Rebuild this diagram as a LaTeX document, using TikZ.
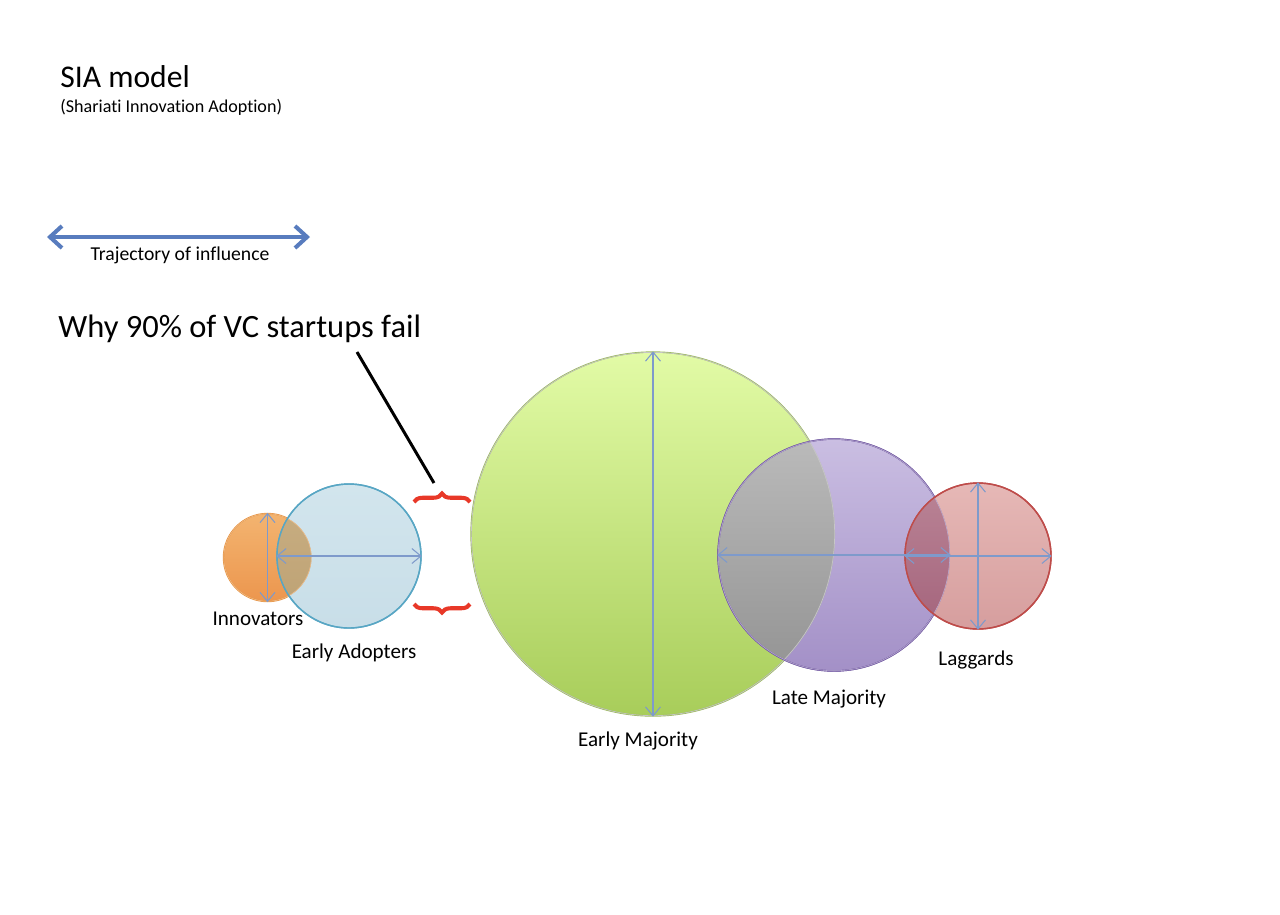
\documentclass[tikz,border=0pt]{standalone}
\usepackage{fontspec}
\setmainfont{Carlito}[Ligatures=NoCommon]
\usepackage{xcolor}
\usepackage{tikz}
\usetikzlibrary{arrows.meta, positioning, decorations.pathreplacing}
\definecolor{spanblue}{RGB}{126, 154, 203}
\definecolor{trajblue}{RGB}{88, 124, 190}
\definecolor{bracered}{RGB}{232, 56, 40}
\definecolor{innTop}{RGB}{243, 180, 112}
\definecolor{innBot}{RGB}{236, 150, 78}
\definecolor{innLine}{RGB}{230, 146, 64}
\definecolor{eaTop}{RGB}{210, 229, 237}
\definecolor{eaBot}{RGB}{200, 222, 232}
\definecolor{eaLine}{RGB}{88, 166, 196}
\definecolor{emTop}{RGB}{226, 251, 166}
\definecolor{emBot}{RGB}{168, 205, 90}
\definecolor{emLine}{RGB}{155, 185, 92}
\definecolor{lmTop}{RGB}{202, 190, 226}
\definecolor{lmBot}{RGB}{163, 144, 199}
\definecolor{lmLine}{RGB}{120, 96, 166}
\definecolor{lagTop}{RGB}{230, 184, 182}
\definecolor{lagBot}{RGB}{214, 158, 158}
\definecolor{lagLine}{RGB}{190, 76, 74}
\definecolor{khakiTop}{RGB}{202, 176, 132}
\definecolor{khakiBot}{RGB}{188, 160, 114}
\definecolor{grayTop}{RGB}{186, 186, 186}
\definecolor{grayBot}{RGB}{148, 148, 148}
\definecolor{mauveTop}{RGB}{186, 132, 150}
\definecolor{mauveBot}{RGB}{164, 100, 124}
\tikzstyle{bubble} = [circle, inner sep=0pt, line width=0.8pt]
\tikzstyle{spanarrow} = [draw=spanblue, line width=0.6pt, {Straight Barb[length=1.8mm,width=3mm]}-{Straight Barb[length=1.8mm,width=3mm]}]
\tikzstyle{trajarrow} = [draw=trajblue, line width=2.3pt, {Straight Barb[length=2.4mm,width=4.4mm]}-{Straight Barb[length=2.4mm,width=4.4mm]}]
\tikzstyle{pointer} = [draw=black, line width=1.7pt]
\tikzstyle{redbrace} = [draw=bracered, line width=2.3pt, decorate, decoration={brace, amplitude=1.7mm}]
\tikzstyle{tag} = [anchor=base, font=\fontsize{12}{14}\selectfont]
\tikzstyle{heading} = [anchor=base west, inner sep=0pt]

\begin{document}
\begin{tikzpicture}[x=0.02cm, y=-0.02cm]
    \useasboundingbox (0,0) rectangle (1280,914);

    % Heading
    \node[heading, font=\fontsize{18}{22}\selectfont] (title) at (60,87) {SIA model};
    \node[heading, font=\fontsize{10.3}{12}\selectfont] (subtitle) at (60,112) {(Shariati Innovation Adoption)};

    % Trajectory of influence
    \coordinate (trajL) at (47,237);
    \coordinate (trajR) at (310,237);
    \draw[trajarrow] (trajL) -- (trajR);
    \node[tag, font=\fontsize{11.2}{13}\selectfont] (trajtext) at (180,260) {Trajectory of influence};

    % Why 90% fail
    \node[heading, font=\fontsize{18.5}{22}\selectfont] (why) at (58,337) {Why 90\% of VC startups fail};
    \coordinate (ptrtop) at (357,352);
    \coordinate (ptrend) at (434,483);
    \draw[pointer] (ptrtop) -- (ptrend);

    % Gap braces
    \draw[redbrace] (414,502) -- (470,502);
    \draw[redbrace, decoration={mirror}] (414,604) -- (470,604);

    % Innovators and Early Adopters
    \node[bubble, minimum size=1.76cm, draw=innLine, top color=innTop, bottom color=innBot] (inn) at (267.5,557.5) {};
    \node[bubble, minimum size=2.88cm, draw=eaLine, top color=eaTop, bottom color=eaBot] (ea) at (349,556) {};
    \begin{scope}
        \clip (inn.center) circle[radius=44];
        \shade[top color=khakiTop, bottom color=khakiBot] (ea.center) circle[radius=72];
        \draw[innLine!60, line width=0.6pt] (inn.center) circle[radius=44];
    \end{scope}
    \draw[eaLine, line width=0.8pt] (ea.center) circle[radius=72];

    % Early Majority and Late Majority
    \node[bubble, minimum size=7.28cm, draw=emLine, top color=emTop, bottom color=emBot] (em) at (653,534) {};
    \node[bubble, minimum size=4.64cm, draw=lmLine, top color=lmTop, bottom color=lmBot] (lm) at (834,555) {};
    \begin{scope}
        \clip (em.center) circle[radius=182];
        \shade[top color=grayTop, bottom color=grayBot] (lm.center) circle[radius=116];
        \draw[gray!45, line width=0.8pt] (em.center) circle[radius=182];
    \end{scope}
    \draw[lmLine, line width=0.8pt] (lm.center) circle[radius=116];

    % Laggards
    \node[bubble, minimum size=2.92cm, draw=lagLine, top color=lagTop, bottom color=lagBot] (lag) at (978,556) {};
    \begin{scope}
        \clip (lm.center) circle[radius=116];
        \shade[top color=mauveTop, bottom color=mauveBot] (lag.center) circle[radius=73];
        \draw[lmLine!50, line width=0.6pt] (lm.center) circle[radius=116];
    \end{scope}
    \draw[lagLine, line width=0.8pt] (lag.center) circle[radius=73];

    % Spans
    \draw[spanarrow] (inn.north) -- (inn.south);
    \draw[spanarrow] (ea.west) -- (ea.east);
    \draw[spanarrow] (em.north) -- (em.south);
    \draw[spanarrow] (lm.west) -- (lm.east);
    \draw[spanarrow] (lag.north) -- (lag.south);
    \draw[spanarrow] (lag.west) -- (lag.east);

    % Labels
    \node[tag] (inntext) at (258,625) {Innovators};
    \node[tag] (eatext) at (354,658) {Early Adopters};
    \node[tag] (emtext) at (638,746) {Early Majority};
    \node[tag] (lmtext) at (829,704) {Late Majority};
    \node[tag] (lagtext) at (976,665) {Laggards};
\end{tikzpicture}
\end{document}
